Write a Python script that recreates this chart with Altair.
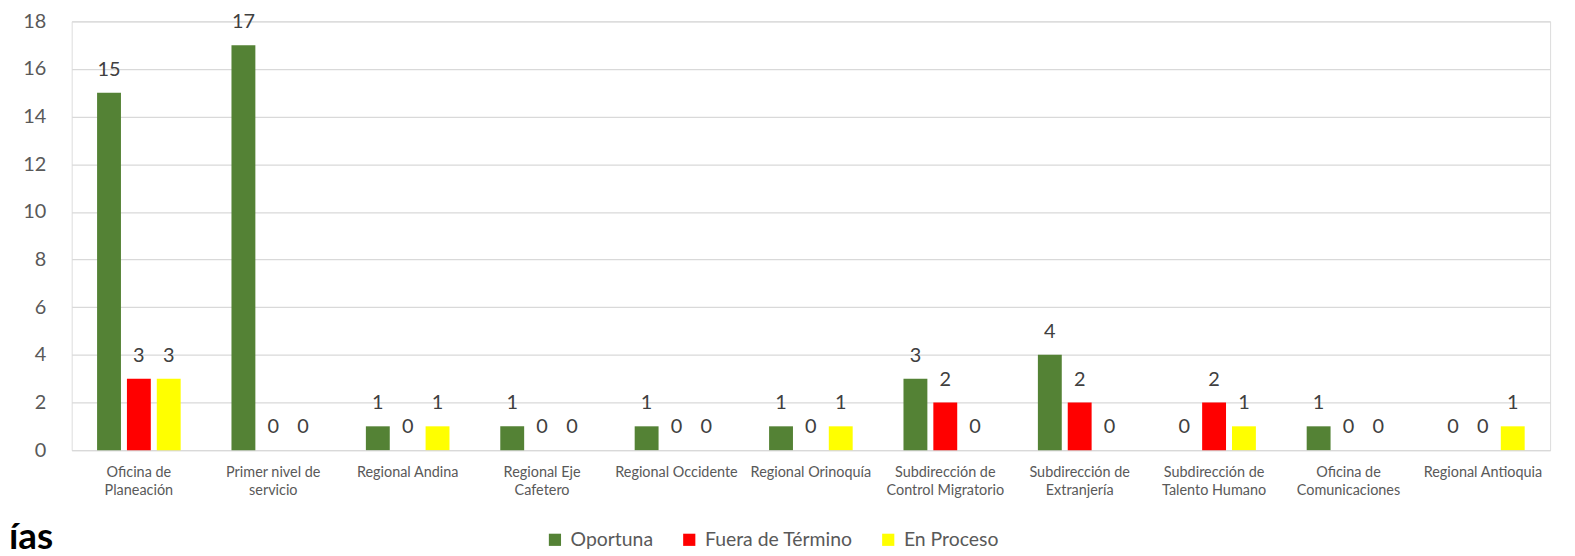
import altair as alt
import pandas as pd

categories = [
    "Oficina de\nPlaneación",
    "Primer nivel de\nservicio",
    "Regional Andina",
    "Regional Eje\nCafetero",
    "Regional Occidente",
    "Regional Orinoquía",
    "Subdirección de\nControl Migratorio",
    "Subdirección de\nExtranjería",
    "Subdirección de\nTalento Humano",
    "Oficina de\nComunicaciones",
    "Regional Antioquia",
]
series = ["Oportuna", "Fuera de Término", "En Proceso"]
oportuna = [15, 17, 1, 1, 1, 1, 3, 4, 0, 1, 0]
fuera = [3, 0, 0, 0, 0, 0, 2, 2, 2, 0, 0]
en_proceso = [3, 0, 1, 0, 0, 1, 0, 0, 1, 0, 1]
colors = ["#548235", "#FF0000", "#FFFF00"]
y_ticks = [0, 2, 4, 6, 8, 10, 12, 14, 16, 18]

rows = []
for s, vals in zip(series, [oportuna, fuera, en_proceso]):
    for c, v in zip(categories, vals):
        rows.append({"cat": c, "serie": s, "valor": v})
df = pd.DataFrame(rows)

FONT = "Lato"

x_enc = alt.X(
    "cat:N",
    sort=categories,
    title=None,
    scale=alt.Scale(paddingInner=0.378, paddingOuter=0.189),
    axis=alt.Axis(
        labelAngle=0,
        labelExpr="split(datum.label, '\\n')",
        labelFont=FONT,
        labelFontSize=14.5,
        labelColor="#595959",
        labelPadding=15,
        labelLineHeight=19,
        ticks=False,
        domainColor="#D9D9D9",
        domainWidth=1,
        grid=False,
        labelBaseline="top",
    ),
)
xoff = alt.XOffset("serie:N", sort=series, scale=alt.Scale(paddingInner=0.2, paddingOuter=0))
y_enc = alt.Y(
    "valor:Q",
    title=None,
    scale=alt.Scale(domain=[0, 18], nice=False),
    axis=alt.Axis(
        values=y_ticks,
        labelFont=FONT,
        labelFontSize=20,
        labelColor="#595959",
        labelPadding=26,
        ticks=False,
        domain=False,
        gridColor="#D9D9D9",
        gridWidth=1.3,
    ),
)

base = alt.Chart(df)

bars = base.mark_bar().encode(
    x=x_enc,
    xOffset=xoff,
    y=y_enc,
    color=alt.Color(
        "serie:N",
        sort=series,
        scale=alt.Scale(domain=series, range=colors),
        legend=alt.Legend(
            title=None,
            orient="none",
            direction="horizontal",
            legendX=476,
            legendY=511,
            symbolType="square",
            symbolSize=150,
            symbolStrokeWidth=0,
            labelFont=FONT,
            labelFontSize=19.5,
            labelColor="#595959",
            columnPadding=26,
            labelOffset=6,
        ),
    ),
)

labels = base.mark_text(
    font=FONT, fontSize=20, color="#404040", baseline="alphabetic", dy=-17
).encode(
    x=alt.X("cat:N", sort=categories),
    xOffset=xoff,
    y=alt.Y("valor:Q"),
    text=alt.Text("valor:Q"),
)

side = alt.Chart(pd.DataFrame({"t": ["ías"]})).mark_text(
    font=FONT, fontSize=37, fontWeight="bold", color="#000000", align="left", baseline="alphabetic"
).encode(x=alt.value(-63), y=alt.value(530), text="t:N")

chart = (
    alt.layer(bars, labels, side)
    .properties(
        width=1486,
        height=431,
        autosize=alt.AutoSizeParams(type="none"),
        padding={"left": 64, "top": 12, "right": 17, "bottom": 105},
    )
    .configure_view(stroke=None)
    .configure(background="white")
)

chart.save("out.html", embed_options={"renderer": "svg", "actions": False})
